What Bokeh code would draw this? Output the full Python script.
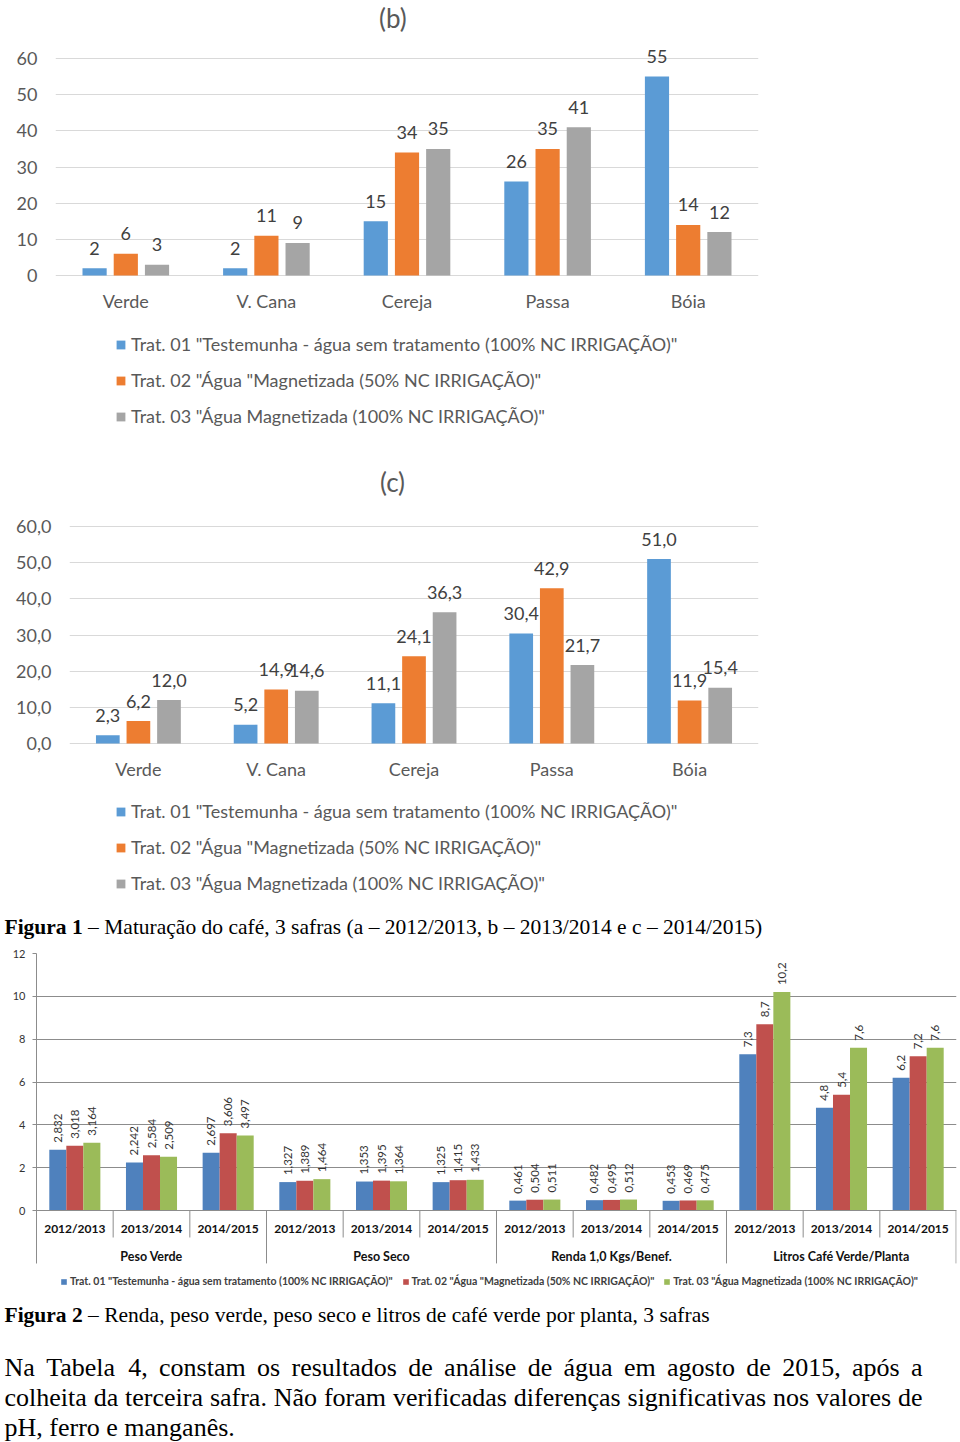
import math
from bokeh.plotting import figure
from bokeh.models import ColumnDataSource, FactorRange, Range1d, FixedTicker, Legend, LegendItem
from bokeh.transform import dodge
from bokeh.layouts import column, row
from bokeh.core.properties import value
from bokeh.embed import file_html
from bokeh.resources import INLINE

# ---------------- data ----------------
stages = ["Verde", "V. Cana", "Cereja", "Passa", "Bóia"]
treatments = [
    'Trat. 01 "Testemunha - água sem tratamento (100% NC IRRIGAÇÃO)"',
    'Trat. 02 "Água "Magnetizada (50% NC IRRIGAÇÃO)"',
    'Trat. 03 "Água Magnetizada (100% NC IRRIGAÇÃO)"',
]
b_t1 = [2, 2, 15, 26, 55]
b_t2 = [6, 11, 34, 35, 14]
b_t3 = [3, 9, 35, 41, 12]
c_t1 = [2.3, 5.2, 11.1, 30.4, 51.0]
c_t2 = [6.2, 14.9, 24.1, 42.9, 11.9]
c_t3 = [12.0, 14.6, 36.3, 21.7, 15.4]
mat_ticks = [0, 10, 20, 30, 40, 50, 60]

measures = ["Peso Verde", "Peso Seco", "Renda 1,0 Kgs/Benef.", "Litros Café Verde/Planta"]
harvests = ["2012/2013", "2013/2014", "2014/2015"]
f2_t1 = [2.832, 2.242, 2.697, 1.327, 1.353, 1.325, 0.461, 0.482, 0.453, 7.3, 4.8, 6.2]
f2_t2 = [3.018, 2.584, 3.606, 1.389, 1.395, 1.415, 0.504, 0.495, 0.469, 8.7, 5.4, 7.2]
f2_t3 = [3.164, 2.509, 3.497, 1.464, 1.364, 1.433, 0.511, 0.512, 0.475, 10.2, 7.6, 7.6]
f2_decimals = [3, 3, 3, 1]
f2_ticks = [0, 2, 4, 6, 8, 10, 12]

caption1_bold = "Figura 1"
caption1_rest = "– Maturação do café, 3 safras (a – 2012/2013, b – 2013/2014 e c – 2014/2015)"
caption2_bold = "Figura 2"
caption2_rest = "– Renda, peso verde, peso seco e litros de café verde por planta, 3 safras"
paragraph = [
    "Na Tabela 4, constam os resultados de análise de água em agosto de 2015, após a",
    "colheita da terceira safra. Não foram verificadas diferenças significativas nos valores de",
    "pH, ferro e manganês.",
]

# ---------------- styles ----------------
W = 960
MAT_COLORS = ["#5B9BD5", "#ED7D31", "#A5A5A5"]
F2_COLORS = ["#4F81BD", "#C0504D", "#9BBB59"]
SANS = "Lato"
SERIF = "Liberation Serif"
GREY_TXT = "#595959"
MAT_FS = "18px"


def comma(v, d):
    return f"{v:.{d}f}".replace(".", ",")


def maturation(t1, t2, t3, dec, tag, h, left, fw, y0, y1, tag_y, tag_dx, leg_loc, tick_dec):
    p = figure(width=W, height=h, x_range=FactorRange(*stages), y_range=Range1d(y0, y1),
               output_backend="svg", toolbar_location=None,
               min_border_left=left, min_border_right=W - left - fw,
               min_border_top=0, min_border_bottom=0)
    p.outline_line_color = None
    src = ColumnDataSource(dict(
        stage=stages, t1=t1, t2=t2, t3=t3,
        l1=[comma(v, dec) for v in t1], l2=[comma(v, dec) for v in t2], l3=[comma(v, dec) for v in t3]))
    offs = [-0.222, 0.0, 0.222]
    items = []
    for k in range(3):
        xs = dodge("stage", offs[k], range=p.x_range)
        r = p.vbar(x=xs, top=f"t{k+1}", bottom=0, width=0.172, source=src,
                   fill_color=MAT_COLORS[k], line_color=None)
        p.text(x=xs, y=f"t{k+1}", text=f"l{k+1}", source=src, text_align="center",
               text_baseline="middle", y_offset=-20, text_font=value(SANS),
               text_font_size=MAT_FS, text_color="#404040")
        items.append(LegendItem(label=treatments[k], renderers=[r]))
    tsrc = ColumnDataSource(dict(stage=["Cereja"], t=[tag]))
    p.text(x=dodge("stage", tag_dx, range=p.x_range), y=tag_y, text="t", source=tsrc,
           text_align="center", text_baseline="middle", text_font=value(SANS),
           text_font_size="26px", text_color=GREY_TXT)

    xa = p.xaxis[0]
    xa.fixed_location = 0
    xa.axis_line_color = None
    xa.major_tick_line_color = None
    xa.minor_tick_line_color = None
    xa.major_tick_out = 0
    xa.minor_tick_out = 0
    xa.major_label_standoff = 14
    xa.major_label_text_font = SANS
    xa.major_label_text_font_size = MAT_FS
    xa.major_label_text_color = GREY_TXT

    ya = p.yaxis[0]
    ya.ticker = FixedTicker(ticks=mat_ticks)
    if tick_dec:
        ya.major_label_overrides = {t: comma(t, tick_dec) for t in mat_ticks}
    ya.axis_line_color = None
    ya.major_tick_line_color = None
    ya.minor_tick_line_color = None
    ya.major_tick_out = 0
    ya.minor_tick_out = 0
    ya.major_label_standoff = 18
    ya.major_label_text_font = SANS
    ya.major_label_text_font_size = MAT_FS
    ya.major_label_text_color = GREY_TXT
    p.xgrid.grid_line_color = None
    p.ygrid.grid_line_color = "#D9D9D9"
    p.ygrid.grid_line_width = 1

    leg = Legend(items=items, location=leg_loc, orientation="vertical",
                 label_text_font=SANS, label_text_font_size=MAT_FS, label_text_color=GREY_TXT,
                 glyph_width=11, glyph_height=11, label_height=20, spacing=14,
                 label_standoff=5, padding=0, margin=0,
                 border_line_color=None, background_fill_alpha=0)
    p.add_layout(leg)
    return p


pb = maturation(b_t1, b_t2, b_t3, 0, "(b)", 445, 55, 703, -47.0, 76.04, 71.3, -0.10, (60, 18), 0)
pc = maturation(c_t1, c_t2, c_t3, 1, "(c)", 457, 69, 689, -43.96, 82.40, 72.2, -0.156, (46, 8), 1)

# ---------------- figure 2 chart ----------------
factors = [(m, hv) for m in measures for hv in harvests]
p3 = figure(width=W, height=350,
            x_range=FactorRange(*factors, range_padding=0, factor_padding=0,
                                group_padding=0, subgroup_padding=0),
            y_range=Range1d(-3.875, 12), output_backend="svg", toolbar_location=None,
            min_border_left=36, min_border_right=4, min_border_top=10, min_border_bottom=0)
p3.outline_line_color = None
decs = [d for d in f2_decimals for _ in harvests]
src3 = ColumnDataSource(dict(
    fac=factors, t1=f2_t1, t2=f2_t2, t3=f2_t3,
    l1=[comma(v, d) for v, d in zip(f2_t1, decs)],
    l2=[comma(v, d) for v, d in zip(f2_t2, decs)],
    l3=[comma(v, d) for v, d in zip(f2_t3, decs)]))
offs3 = [-0.222, 0.0, 0.222]
items3 = []
for k in range(3):
    xs = dodge("fac", offs3[k], range=p3.x_range)
    r = p3.vbar(x=xs, top=f"t{k+1}", bottom=0, width=0.222, source=src3,
                fill_color=F2_COLORS[k], line_color=None)
    p3.text(x=xs, y=f"t{k+1}", text=f"l{k+1}", source=src3, angle=math.pi / 2,
            text_align="left", text_baseline="middle", y_offset=-7,
            text_font=value(SANS), text_font_size="11.5px", text_color="#333333")
    items3.append(LegendItem(label=treatments[k], renderers=[r]))

SEP = "#8C8C8C"
ysep = ColumnDataSource(dict(fac=[f for f in factors if f[1] != harvests[0]]))
gsep = ColumnDataSource(dict(fac=[f for f in factors if f[1] == harvests[0] and f[0] != measures[0]]))
esep = ColumnDataSource(dict(fac=[factors[-1]]))
p3.segment(x0=dodge("fac", -0.5, range=p3.x_range), y0=0, x1=dodge("fac", -0.5, range=p3.x_range),
           y1=-1.26, source=ysep, line_color=SEP, line_width=1)
p3.segment(x0=dodge("fac", -0.5, range=p3.x_range), y0=0, x1=dodge("fac", -0.5, range=p3.x_range),
           y1=-2.47, source=gsep, line_color=SEP, line_width=1)
p3.segment(x0=dodge("fac", 0.495, range=p3.x_range), y0=0, x1=dodge("fac", 0.495, range=p3.x_range),
           y1=-2.47, source=esep, line_color=SEP, line_width=1)

xa3 = p3.xaxis[0]
xa3.fixed_location = 0
xa3.axis_line_color = SEP
xa3.major_tick_line_color = None
xa3.major_tick_out = 0
xa3.minor_tick_out = 0
xa3.major_label_standoff = 10
xa3.major_label_text_font = SANS
xa3.major_label_text_font_size = "12px"
xa3.major_label_text_font_style = "bold"
xa3.major_label_text_color = "#111111"
xa3.group_text_font = SANS
xa3.group_text_font_size = "12.5px"
xa3.group_text_font_style = "bold"
xa3.group_text_color = "#111111"
xa3.separator_line_color = None

ya3 = p3.yaxis[0]
ya3.ticker = FixedTicker(ticks=f2_ticks)
ya3.bounds = (-2.47, 12)
ya3.axis_line_color = SEP
ya3.major_tick_line_color = SEP
ya3.major_tick_out = 4
ya3.major_tick_in = 0
ya3.minor_tick_line_color = None
ya3.major_label_standoff = 7
ya3.major_label_text_font = SANS
ya3.major_label_text_font_size = "11px"
ya3.major_label_text_color = "#333333"
p3.xgrid.grid_line_color = None
p3.ygrid.grid_line_color = SEP

leg3 = Legend(items=items3, location=(24, 6), orientation="horizontal",
              label_text_font=SANS, label_text_font_size="10.5px", label_text_font_style="bold",
              label_text_color="#404040", glyph_width=7, glyph_height=7, label_height=12,
              label_standoff=3, spacing=9, padding=0, margin=0,
              border_line_color=None, background_fill_alpha=0)
p3.add_layout(leg3)

# ---------------- caption / paragraph text ----------------
TNR = {" ": 250, ",": 250, ".": 250, "–": 500, "(": 333, ")": 333, "/": 278,
       "a": 444, "b": 500, "c": 444, "d": 500, "e": 444, "f": 333, "g": 500, "h": 500,
       "i": 278, "j": 278, "k": 500, "l": 278, "m": 778, "n": 500, "o": 500, "p": 500,
       "q": 500, "r": 333, "s": 389, "t": 278, "u": 500, "v": 500, "w": 722, "x": 500,
       "y": 500, "z": 444, "á": 444, "ã": 444, "â": 444, "é": 444, "ê": 444, "í": 278,
       "ó": 500, "õ": 500, "ç": 444, "N": 722, "T": 611, "H": 722, "F": 556, "M": 889,
       "R": 667}
TNR.update({d: 500 for d in "0123456789"})
TNRB = {"F": 611, "i": 278, "g": 500, "u": 556, "r": 444, "a": 500, " ": 250}
TNRB.update({d: 500 for d in "0123456789"})


def tw(s, size, table):
    return sum(table.get(ch, 500) for ch in s) * size / 1000.0


def text_fig(h):
    p = figure(width=W, height=h, x_range=Range1d(0, W), y_range=Range1d(h, 0),
               output_backend="svg", toolbar_location=None, min_border=0,
               x_axis_location=None, y_axis_location=None)
    p.grid.visible = False
    p.outline_line_color = None
    return p


TX0 = 4


def caption(p, bold, rest, y, fs):
    p.text(x=[TX0], y=[y], text=[bold], text_font=value(SERIF), text_font_size=f"{fs}px",
           text_font_style="bold", text_baseline="alphabetic", text_align="left", text_color="#000000")
    p.text(x=[TX0 + tw(bold + " ", fs, TNRB)], y=[y], text=[rest], text_font=value(SERIF),
           text_font_size=f"{fs}px", text_baseline="alphabetic", text_align="left", text_color="#000000")


CAP_FS = 21.5
pcap1 = text_fig(41)
caption(pcap1, caption1_bold, caption1_rest, 24, CAP_FS)

pcap2 = text_fig(149)
caption(pcap2, caption2_bold, caption2_rest, 21, CAP_FS)

PAR_FS = 26
PAR_W = 918
xs_w, ys_w, tx_w = [], [], []
for li, line in enumerate(paragraph):
    y = 74 + 30 * li
    words = line.split(" ")
    if li < len(paragraph) - 1:
        natural = sum(tw(w_, PAR_FS, TNR) for w_ in words)
        gap = (PAR_W - natural) / (len(words) - 1)
        x = float(TX0)
        for w_ in words:
            xs_w.append(x); ys_w.append(y); tx_w.append(w_)
            x += tw(w_, PAR_FS, TNR) + gap
    else:
        xs_w.append(float(TX0)); ys_w.append(y); tx_w.append(line)
pcap2.text(x=xs_w, y=ys_w, text=tx_w, text_font=value(SERIF), text_font_size=f"{PAR_FS}px",
           text_baseline="alphabetic", text_align="left", text_color="#000000")

page = column(row(pb), row(pc), row(pcap1), row(p3), row(pcap2), spacing=0)
open("out.html", "w").write(file_html(page, INLINE))
